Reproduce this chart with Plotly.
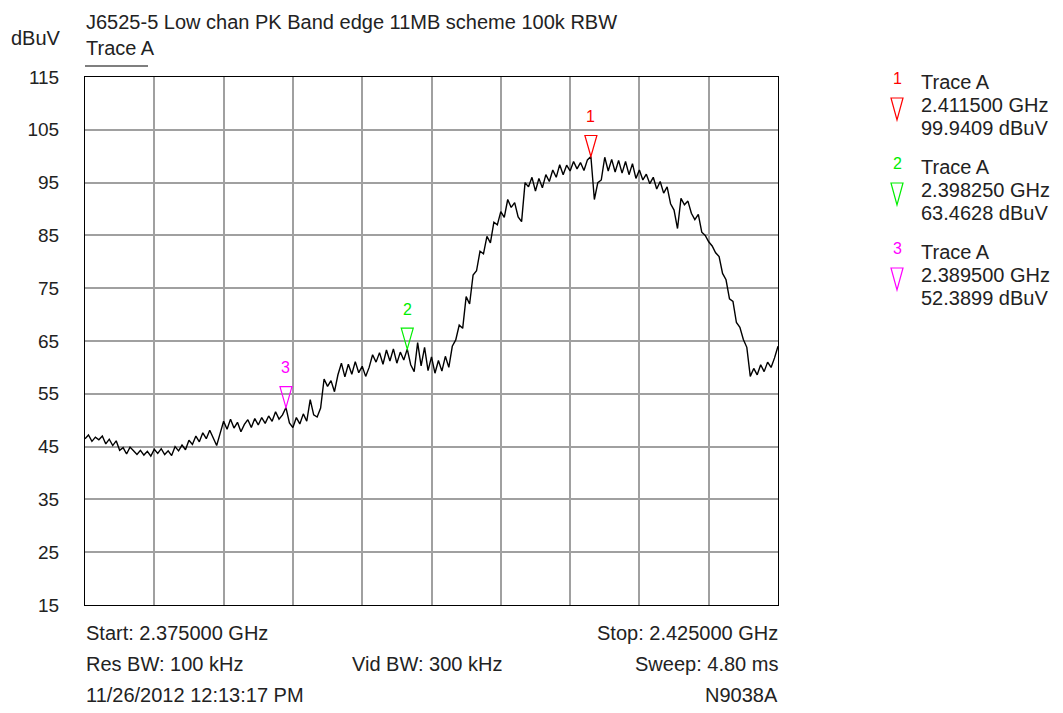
import numpy as np
import plotly.graph_objects as go

# sweep levels (dBuV), 0.25 MHz steps from 2.375 to 2.425 GHz
levels = [
    46.5, 47.2, 46.0, 46.8,  46.3, 47.0, 45.5, 46.4,  45.2, 46.1, 44.3, 44.8,
    43.6, 44.9, 44.2, 43.5,  44.3, 43.4, 44.1, 43.2,  44.5, 43.7, 44.6, 43.5,
    44.2, 43.3, 45.0, 44.2,  45.3, 44.4, 46.2, 45.4,  47.0, 45.9, 47.6, 46.5,
    48.1, 46.8, 45.2, 47.5,  49.8, 48.3, 50.2, 48.5,  49.6, 47.8, 49.2, 50.1,
    48.6, 50.3, 49.1, 50.5,  49.4, 50.8, 49.8, 51.6,  50.2, 51.0, 52.4, 49.5,
    48.6, 50.5, 49.3, 51.2,  49.8, 53.9, 51.0, 50.6,  52.3, 57.8, 56.4, 57.5,
    55.4, 58.6, 60.8, 58.2,  60.6, 58.7, 61.1, 59.0,  60.2, 58.3, 60.0, 62.4,
    61.0, 62.8, 60.6, 63.3,  61.2, 63.5, 60.8, 62.9,  61.4, 63.46, 60.5, 59.2,
    64.7, 60.3, 63.8, 59.4,  62.0, 58.9, 61.3, 59.3,  62.1, 60.0, 64.0, 65.2,
    68.0, 67.4, 73.4, 72.0,  77.5, 78.3, 82.0, 81.5,  84.8, 83.6, 87.5, 87.0,
    89.5, 88.4, 91.8, 90.3,  91.2, 88.5, 87.6, 95.0,  94.2, 96.0, 93.4, 95.8,
    94.0, 96.5, 95.2, 97.4,  96.0, 98.4, 96.5, 98.3,  97.2, 99.0, 97.6, 98.8,
    97.3, 99.3, 99.94, 91.8, 95.0, 95.5, 99.8, 97.2,  99.4, 97.0, 99.2, 96.8,
    99.0, 96.5, 98.6, 95.8,  97.4, 95.5, 96.6, 94.8,  96.0, 93.8, 95.2, 93.0,
    94.2, 91.0, 89.8, 86.3,  92.0, 90.8, 91.5, 89.2,  88.0, 89.0, 85.6, 85.0,
    83.8, 83.0, 81.7, 81.0,  77.8, 76.6, 73.0, 72.5,  68.5, 67.6, 65.3, 63.8,
    58.3, 59.8, 58.6, 60.5,  59.2, 61.0, 60.0, 61.8,  64.0,
]
freqs = np.linspace(2.375, 2.425, len(levels))

marker_ids = ["1", "2", "3"]
marker_freq = [2.4115, 2.39825, 2.3895]
marker_level = [99.9409, 63.4628, 52.3899]
marker_colors = ["#ff0000", "#00ee00", "#ff00ff"]

y_ticks = [15, 25, 35, 45, 55, 65, 75, 85, 95, 105, 115]

FONT = "Liberation Sans, Arial, sans-serif"
TXT = 20

fig = go.Figure()
fig.add_trace(go.Scatter(x=freqs, y=levels, mode="lines",
                         line=dict(color="black", width=1.4),
                         hoverinfo="skip", showlegend=False))

annotations = []
shapes = []

# markers on the trace: open triangle with tip on the point, number above
for mid, f, lv, c in zip(marker_ids, marker_freq, marker_level, marker_colors):
    shapes.append(dict(type="path", xref="x", yref="y",
                       xsizemode="pixel", ysizemode="pixel",
                       xanchor=f, yanchor=lv,
                       path="M-6,21 L6,21 L0,0 Z",
                       line=dict(color=c, width=1.2)))
    annotations.append(dict(x=f, y=lv, xref="x", yref="y", text=mid,
                            showarrow=False, yshift=40,
                            font=dict(family=FONT, size=16, color=c)))


def py(p):
    # screen pixel row -> paper y (plot area 77..605)
    return 1 - (p - 77) / 528


def px(p):
    # screen pixel column -> paper x (plot area 85..778)
    return (p - 85) / 693


# marker readout block on the right
for i, (mid, f, lv, c) in enumerate(zip(marker_ids, marker_freq, marker_level, marker_colors)):
    top = 82 + i * 85
    annotations.append(dict(x=px(897), y=py(top - 4), xref="paper", yref="paper",
                            text=mid, showarrow=False, xanchor="center", yanchor="middle",
                            font=dict(family=FONT, size=16, color=c)))
    shapes.append(dict(type="path", xref="paper", yref="paper",
                       xsizemode="pixel", ysizemode="pixel",
                       xanchor=px(897), yanchor=py(top + 38),
                       path="M-6,22 L6,22 L0,0 Z",
                       line=dict(color=c, width=1.2)))
    lines = ["Trace A", f"{f:.6f} GHz", f"{lv:.4f} dBuV"]
    for j, t in enumerate(lines):
        annotations.append(dict(x=px(919), y=py(top + 23 * j), xref="paper", yref="paper",
                                text=t, showarrow=False, xanchor="left", yanchor="middle",
                                font=dict(family=FONT, size=TXT, color="#222")))


def txt(x, y, t, anchor="left", size=TXT, yanchor="middle"):
    annotations.append(dict(x=px(x), y=py(y), xref="paper", yref="paper",
                            text=t, showarrow=False, xanchor=anchor, yanchor=yanchor,
                            font=dict(family=FONT, size=size, color="#222")))


txt(84, 9, "J6525-5 Low chan PK Band edge 11MB scheme 100k RBW", yanchor="top")
txt(9, 38, "dBuV")
txt(84, 48, "Trace A")
shapes.append(dict(type="line", xref="paper", yref="paper",
                   x0=0, x1=px(148), y0=py(66), y1=py(66),
                   line=dict(color="#555", width=1.5)))

txt(84, 633, "Start: 2.375000 GHz")
txt(780, 633, "Stop: 2.425000 GHz", "right")
txt(84, 664, "Res BW: 100 kHz")
txt(350, 664, "Vid BW: 300 kHz")
txt(780, 664, "Sweep: 4.80 ms", "right")
txt(84, 695, "11/26/2012 12:13:17 PM")
txt(780, 695, "N9038A", "right")

# page body has an 8px margin, so the figure is offset by 8px
fig.update_layout(
    width=1055, height=705,
    margin=dict(l=77, r=285, t=69, b=108),
    paper_bgcolor="white", plot_bgcolor="white",
    font=dict(family=FONT, size=TXT, color="#222"),
    annotations=annotations, shapes=shapes,
)
fig.update_xaxes(range=[2.375, 2.425], dtick=0.005, tick0=2.375,
                 showgrid=True, gridcolor="#a0a0a0", gridwidth=2,
                 showticklabels=False, ticks="", zeroline=False,
                 showline=True, linecolor="black", linewidth=1, mirror=True)
fig.update_yaxes(range=[15, 115], tickvals=y_ticks,
                 showgrid=True, gridcolor="#a0a0a0", gridwidth=2,
                 ticks="", ticklabelstandoff=21, zeroline=False,
                 tickfont=dict(family=FONT, size=19, color="#222"),
                 showline=True, linecolor="black", linewidth=1, mirror=True)

fig.write_html("out.html")
